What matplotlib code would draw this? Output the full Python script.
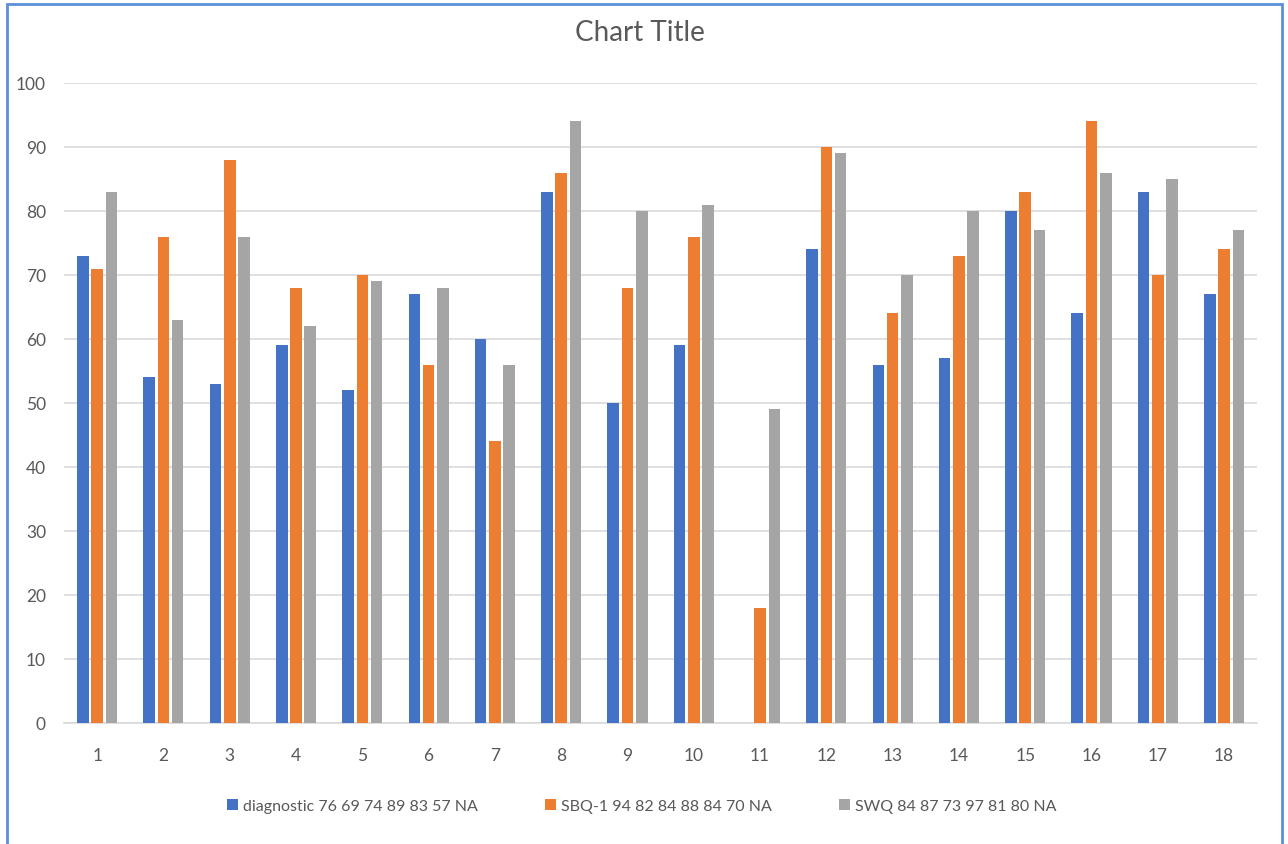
import numpy as np
import matplotlib
matplotlib.use("Agg")
import matplotlib.pyplot as plt
from matplotlib.patches import Rectangle

plt.rcParams['font.family'] = ['Lato', 'DejaVu Sans']

# data per category; category 11 has no diagnostic value (NA)
categories = [str(i) for i in range(1, 19)]
diagnostic = [73, 54, 53, 59, 52, 67, 60, 83, 50, 59, np.nan, 74, 56, 57, 80, 64, 83, 67]
sbq1 = [71, 76, 88, 68, 70, 56, 44, 86, 68, 76, 18, 90, 64, 73, 83, 94, 70, 74]
swq = [83, 63, 76, 62, 69, 68, 56, 94, 80, 81, 49, 89, 70, 80, 77, 86, 85, 77]
series_names = ['diagnostic 76 69 74 89 83 57 NA',
                'SBQ-1 94 82 84 88 84 70 NA',
                'SWQ 84 87 73 97 81 80 NA']
colors = ['#4472C4', '#ED7D31', '#A5A5A5']
text_gray = '#595959'

fig = plt.figure(figsize=(12.88, 8.45), dpi=100)
ax = fig.add_axes([0.0497, 0.1432, 0.9264, 0.7574])

x = np.arange(len(categories))
bar_w = 0.175
offset = 0.215
for i, (vals, name, c) in enumerate(zip([diagnostic, sbq1, swq], series_names, colors)):
    ax.bar(x + (i - 1) * offset, vals, width=bar_w, color=c, label=name, zorder=3)

ax.set_xlim(-0.5, len(categories) - 0.5)
ax.set_ylim(0, 100)
ax.set_yticks(range(0, 101, 10))
ax.set_xticks(x)
ax.set_xticklabels(categories)
ax.grid(axis='y', color='#D9D9D9', linewidth=1.2, zorder=0)
for s in ['top', 'right', 'left']:
    ax.spines[s].set_visible(False)
ax.spines['bottom'].set_color('#D9D9D9')
ax.spines['bottom'].set_linewidth(1.2)
ax.tick_params(axis='both', length=0, labelsize=12.5, colors=text_gray)
ax.tick_params(axis='y', pad=13)
ax.tick_params(axis='x', pad=17)

fig.text(0.497, 0.961, 'Chart Title', ha='center', va='center', fontsize=20, color=text_gray)

leg = fig.legend(loc='center', bbox_to_anchor=(0.498, 0.045), ncol=3, frameon=False,
                 fontsize=11.5, handlelength=0.7, handleheight=0.7, handletextpad=0.3,
                 columnspacing=4.2, labelcolor=text_gray)

# outer frame
fig.patches.append(Rectangle((7 / 1288, -0.01), 1275 / 1288, 1 - 5 / 845 + 0.01,
                             transform=fig.transFigure, fill=False,
                             edgecolor='#5B8FDB', linewidth=2))

fig.savefig('out.png', dpi=100)
